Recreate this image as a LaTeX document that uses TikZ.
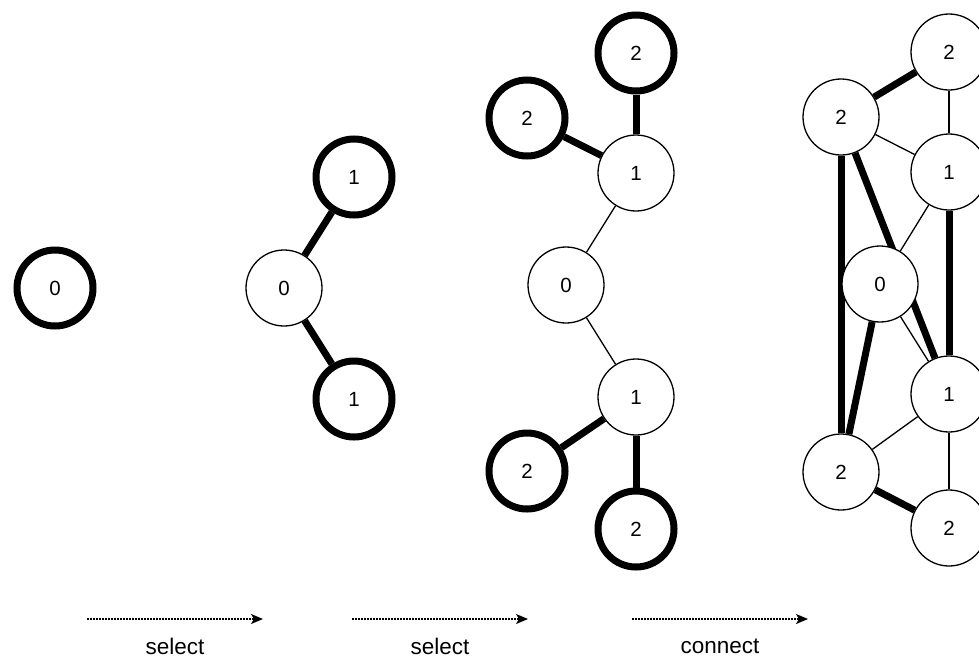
\documentclass[tikz,border=0pt]{standalone}
\usepackage{fontspec}
\setmainfont{Liberation Sans}
\usetikzlibrary{arrows.meta,backgrounds}
\begin{document}
\begin{tikzpicture}[x=1pt,y=-1pt,
  vnode/.style={circle,draw,fill=white,minimum size=76pt,inner sep=0pt,line width=1.3pt,font=\fontsize{20.5}{20.5}\selectfont},
  selnode/.style={vnode,line width=7pt},
  lightedge/.style={line width=1.3pt},
  heavyedge/.style={line width=7pt},
  flow/.style={line width=1.5pt,dash pattern=on 1.5pt off 1.5pt,-{Stealth[length=12pt,width=10pt,inset=3pt]}},
  lbl/.style={font=\fontsize{22.5}{22.5}\selectfont,inner sep=0pt}
]
\useasboundingbox (0,0) rectangle (979,659);
\clip (0,0) rectangle (979,659);

% stage 1
\node[selnode] (a0) at (55,288) {0};

% stage 2
\node[vnode]   (b0) at (284,288) {0};
\node[selnode] (b1) at (354,177) {1};
\node[selnode] (b2) at (354,399) {1};

% stage 3
\node[selnode] (c2a) at (636,53)  {2};
\node[selnode] (c2b) at (527,118) {2};
\node[vnode]   (c1a) at (636,173) {1};
\node[vnode]   (c0)  at (566,285) {0};
\node[vnode]   (c1b) at (636,397) {1};
\node[selnode] (c2c) at (527,471) {2};
\node[selnode] (c2d) at (636,529) {2};

% stage 4
\node[vnode] (d2a) at (949,52)  {2};
\node[vnode] (d2b) at (841,117) {2};
\node[vnode] (d1a) at (949,172) {1};
\node[vnode] (d0)  at (880,284) {0};
\node[vnode] (d1b) at (949,394) {1};
\node[vnode] (d2c) at (841,472) {2};
\node[vnode] (d2d) at (949,528) {2};

\begin{scope}[on background layer]
  \draw[heavyedge] (b0) -- (b1);
  \draw[heavyedge] (b0) -- (b2);

  \draw[heavyedge] (c2a) -- (c1a);
  \draw[heavyedge] (c2b) -- (c1a);
  \draw[lightedge] (c1a) -- (c0);
  \draw[lightedge] (c0) -- (c1b);
  \draw[heavyedge] (c1b) -- (c2c);
  \draw[heavyedge] (c1b) -- (c2d);

  \draw[heavyedge] (d2a) -- (d2b);
  \draw[lightedge] (d2a) -- (d1a);
  \draw[lightedge] (d2b) -- (d1a);
  \draw[heavyedge] (d2b) -- (d2c);
  \draw[heavyedge] (d2b) -- (d1b);
  \draw[lightedge] (d0) -- (d1a);
  \draw[lightedge] (d0) -- (d1b);
  \draw[heavyedge] (d1a) -- (d1b);
  \draw[heavyedge] (d2c) -- (d0);
  \draw[lightedge] (d2c) -- (d1b);
  \draw[lightedge] (d1b) -- (d2d);
  \draw[heavyedge] (d2c) -- (d2d);
\end{scope}

% arrows
\coordinate (s1) at (87,619);  \coordinate (e1) at (263,619);
\coordinate (s2) at (352,619); \coordinate (e2) at (528,619);
\coordinate (s3) at (632,619); \coordinate (e3) at (808,619);
\draw[flow] (s1) -- (e1);
\draw[flow] (s2) -- (e2);
\draw[flow] (s3) -- (e3);
\node[lbl] (l1) at (175,646) {select};
\node[lbl] (l2) at (440,646) {select};
\node[lbl] (l3) at (720,646) {connect};
\end{tikzpicture}
\end{document}
